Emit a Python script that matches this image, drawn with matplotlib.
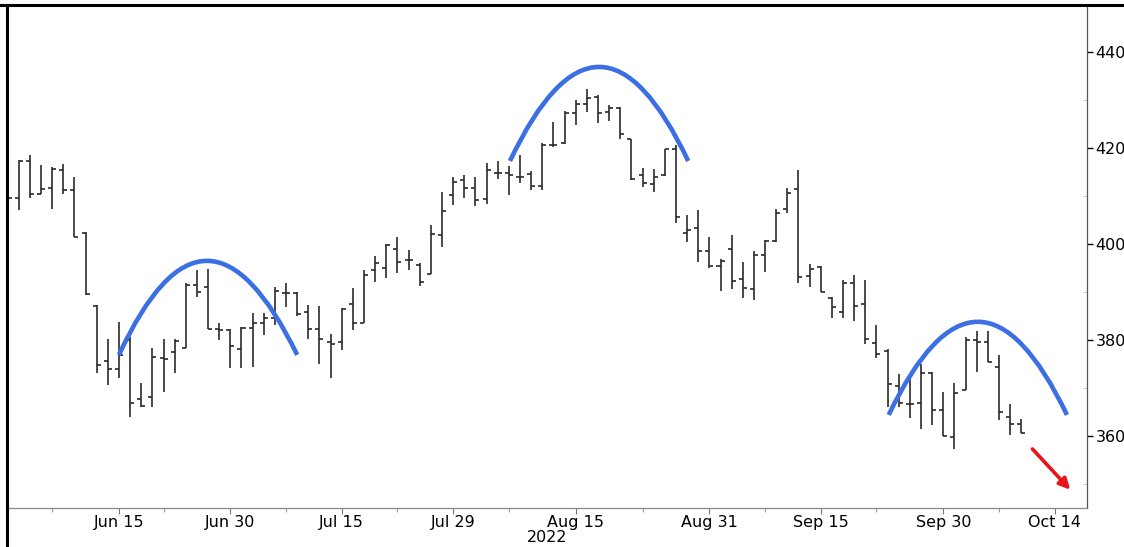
import matplotlib
matplotlib.use("Agg")
import matplotlib.pyplot as plt
from matplotlib.lines import Line2D
from matplotlib.patches import PathPatch
from matplotlib.path import Path
import numpy as np

# Daily bars, Jun 1 -> Oct 11 2022 (one entry per trading day)
opens = [4140, 4095, 4173, 4105, 4117, 4155, 4112, 4023, 3871, 3757,
         3739, 3800, 3678, 3682, 3763, 3775, 3783, 3914, 3910, 3822,
         3820, 3781, 3825, 3835, 3846, 3897, 3898, 3859, 3822, 3795,
         3795, 3876, 3836, 3946, 3951, 3990, 3967, 3956, 3937, 4019,
         4102, 4133, 4117, 4093, 4149, 4147, 4140, 4146, 4121, 4206,
         4211, 4274, 4292, 4307, 4276, 4283, 4218, 4144, 4125, 4144,
         4197, 4022, 4033, 3986, 3954, 3990, 3927, 3906, 3977, 4006,
         4074, 4114, 3933, 3952, 3887, 3858, 3919, 3876, 3793, 3778,
         3704, 3667, 3668, 3731, 3654, 3598, 3696, 3800, 3796, 3744,
         3639, 3626]
highs = [4166, 4175, 4185, 4165, 4161, 4167, 4140, 4026, 3873, 3803,
         3838, 3807, 3710, 3783, 3803, 3803, 3918, 3946, 3947, 3836,
         3822, 3828, 3856, 3857, 3911, 3919, 3899, 3873, 3871, 3812,
         3866, 3908, 3946, 3975, 4001, 4014, 3988, 3961, 4040, 4108,
         4140, 4144, 4140, 4168, 4172, 4163, 4185, 4152, 4210, 4255,
         4278, 4300, 4322, 4310, 4290, 4286, 4218, 4158, 4156, 4199,
         4206, 4060, 4070, 4015, 3968, 4018, 3962, 3986, 4008, 4074,
         4116, 4154, 3958, 3954, 3890, 3925, 3935, 3924, 3831, 3781,
         3729, 3718, 3751, 3734, 3692, 3710, 3807, 3819, 3819, 3769,
         3667, 3635]
lows = [4074, 4071, 4096, 4105, 4074, 4105, 4015, 3894, 3731, 3706,
        3720, 3640, 3661, 3661, 3692, 3731, 3783, 3890, 3822, 3800,
        3741, 3741, 3744, 3810, 3831, 3869, 3851, 3803, 3751, 3721,
        3779, 3821, 3836, 3921, 3930, 3940, 3946, 3912, 3937, 3993,
        4081, 4095, 4079, 4083, 4135, 4102, 4128, 4112, 4112, 4203,
        4208, 4248, 4276, 4253, 4257, 4218, 4133, 4118, 4109, 4142,
        4043, 4005, 3963, 3951, 3903, 3906, 3887, 3883, 3942, 4005,
        4064, 3918, 3911, 3899, 3845, 3845, 3840, 3792, 3762, 3661,
        3661, 3637, 3614, 3623, 3599, 3572, 3696, 3734, 3755, 3633,
        3602, 3606]
closes = [4095, 4173, 4105, 4114, 4156, 4112, 4015, 3896, 3748, 3739,
          3769, 3668, 3663, 3765, 3760, 3797, 3914, 3899, 3822, 3820,
          3787, 3824, 3835, 3846, 3903, 3898, 3855, 3822, 3802, 3792,
          3864, 3835, 3935, 3960, 3999, 3963, 3967, 3921, 4021, 4069,
          4130, 4117, 4092, 4154, 4149, 4144, 4140, 4121, 4206, 4206,
          4274, 4292, 4304, 4274, 4283, 4229, 4136, 4128, 4140, 4197,
          4057, 4029, 3986, 3954, 3965, 3922, 3908, 3977, 4006, 4065,
          4107, 3932, 3947, 3899, 3869, 3918, 3871, 3803, 3770, 3708,
          3668, 3666, 3732, 3654, 3600, 3690, 3800, 3796, 3755, 3651,
          3625, 3607]

tick_pos = [10, 20, 30, 40, 51, 63, 73, 84, 94]
tick_labels = ["Jun 15", "Jun 30", "Jul 15", "Jul 29", "Aug 15",
               "Aug 31", "Sep 15", "Sep 30", "Oct 14"]
minor_pos = [4, 14, 25, 35, 45, 57, 68, 78, 89]
y_ticks = [3600, 3800, 4000, 4200, 4400]
year_label = "2022"

# rounded tops drawn over the chart: (start, peak, end) as (bar index, price)
arcs = [
    ((10.0, 3769), (17.9, 3965), (26.0, 3769)),
    ((45.1, 4173), (53.1, 4369), (61.1, 4173)),
    ((79.1, 3644), (87.1, 3838), (95.1, 3644)),
]
arrow_start = (92.0, 3573)
arrow_end = (95.4, 3488)

W, H = 1124, 547
fig = plt.figure(figsize=(W / 100, H / 100), dpi=100)
ax = fig.add_axes([7 / W, 1 - 508 / H, (1087 - 7) / W, (508 - 5) / H])

x = np.arange(len(opens))
bar_col = "#2a2a2a"
ax.vlines(x, lows, highs, color=bar_col, lw=1.2)
ax.hlines(opens, x - 0.36, x, color=bar_col, lw=1.2)
ax.hlines(closes, x, x + 0.36, color=bar_col, lw=1.2)

for a, p, b in arcs:
    c = (2 * p[0] - (a[0] + b[0]) / 2, 2 * p[1] - (a[1] + b[1]) / 2)
    path = Path([a, c, b], [Path.MOVETO, Path.CURVE3, Path.CURVE3])
    ax.add_patch(PathPatch(path, fill=False, edgecolor="#3b6fe3", lw=3.3,
                           capstyle="butt", zorder=4))

ax.annotate("", xy=arrow_end, xytext=arrow_start,
            arrowprops=dict(arrowstyle="-|>", color="#e8131b", lw=2.6,
                            mutation_scale=16, shrinkA=0, shrinkB=0), zorder=5)

ax.set_xlim(-0.05, 96.9)
ax.set_ylim(3450, 4498)

ax.yaxis.tick_right()
ax.set_yticks(y_ticks)
ax.set_yticks(np.arange(3500, 4500, 100), minor=True)
ax.tick_params(axis="y", which="major", length=4, width=1, color="black",
               labelsize=11.5, pad=2)
ax.tick_params(axis="y", which="minor", length=3, width=0.6, color="#bbbbbb",
               direction="in")
ax.set_xticks(tick_pos)
ax.set_xticklabels(tick_labels)
ax.set_xticks(minor_pos, minor=True)
ax.tick_params(axis="x", which="major", length=4, width=0.8, color="#777777",
               labelsize=11.5, pad=1)
ax.tick_params(axis="x", which="minor", length=3, width=0.8, color="#999999")
ax.text(48.4, -0.043, year_label, transform=ax.get_xaxis_transform(),
        ha="center", va="top", fontsize=11.5)

for s in ["top", "left"]:
    ax.spines[s].set_visible(False)
ax.spines["right"].set_color("#555555")
ax.spines["bottom"].set_color("#888888")
ax.spines["right"].set_linewidth(0.9)
ax.spines["bottom"].set_linewidth(0.9)

# screenshot border along the top and the left edge
fig.add_artist(Line2D([0, 1], [1 - 5 / H, 1 - 5 / H], transform=fig.transFigure,
                      color="black", lw=2.2))
fig.add_artist(Line2D([7 / W, 7 / W], [0, 1 - 5 / H], transform=fig.transFigure,
                      color="black", lw=2.2))

fig.savefig("out.png", dpi=100, facecolor="white")
